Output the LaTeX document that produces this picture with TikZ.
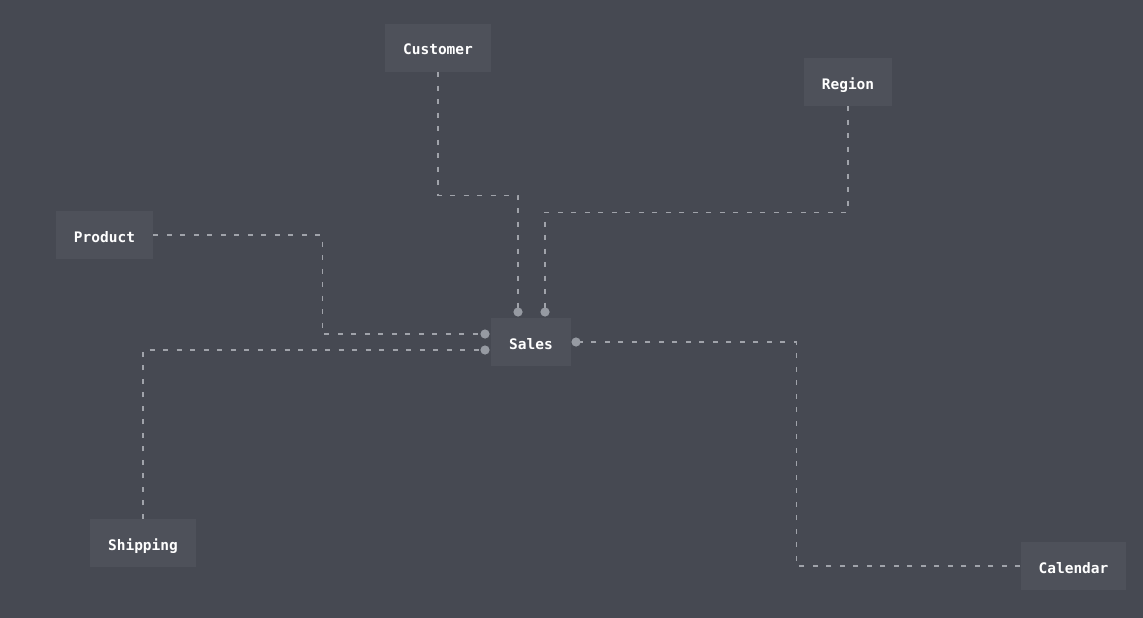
\documentclass[tikz,border=0pt]{standalone}
\usepackage{fontspec}
\setmonofont{DejaVu Sans Mono}
\usetikzlibrary{positioning, calc}

\definecolor{bgcol}{RGB}{70,73,82}
\definecolor{boxcol}{RGB}{78,81,90}
\definecolor{linkcol}{RGB}{160,163,170}

\tikzset{
  table/.style={fill=boxcol, text=white, font=\ttfamily\bfseries\fontsize{14.5}{16}\selectfont,
    inner xsep=18pt, inner ysep=0pt, minimum height=48pt, text height=14pt, text depth=0pt},
  link/.style={linkcol, line width=1.4pt, dash pattern=on 5pt off 8.5pt},
  joint/.style={fill=linkcol!110}
}

\begin{document}
\begin{tikzpicture}[x=1pt, y=1pt]
	% background
	\fill[bgcol] (0,0) rectangle (1143,-618);
	\useasboundingbox (0,0) rectangle (1143,-618);

	% tables
	\node[table] (sales) at (531,-342) {Sales};
	\node[table] (customer) at (438,-48) {Customer};
	\node[table] (region) at (848,-82) {Region};
	\node[table] (product) at (104.5,-235) {Product};
	\node[table] (shipping) at (143,-543) {Shipping};
	\node[table] (calendar) at (1073.5,-566) {Calendar};

	% joints on the fact table
	\coordinate (jCust) at (518,-312);
	\coordinate (jReg) at (545,-312);
	\coordinate (jProd) at (485,-334);
	\coordinate (jShip) at (485,-350);
	\coordinate (jCal) at (576,-342);

	% links
	\draw[link] (customer.south) -- ++(0,-123) -| (jCust);
	\draw[link] (region.south) -- ++(0,-106) -| (jReg);
	\draw[link] (product.east) -- ++(169,0) |- (jProd);
	\draw[link] (shipping.north) |- (jShip);
	\draw[link] (calendar.west) -- ++(-224,0) |- (jCal);

	\foreach \j in {jCust, jReg, jProd, jShip, jCal}
		\fill[joint] (\j) circle (4.6);
\end{tikzpicture}
\end{document}
